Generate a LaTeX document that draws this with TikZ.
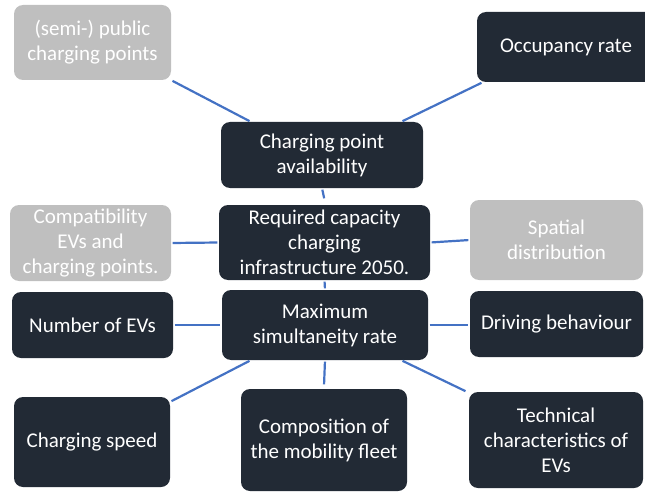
\documentclass[tikz,border=0pt]{standalone}
\usepackage{fontspec}
\setmainfont{Carlito}
\usepackage{xcolor}
\usepackage{tikz}

\definecolor{boxdark}{HTML}{222A35}
\definecolor{boxgrey}{HTML}{BFBFBF}
\definecolor{linkblue}{HTML}{4472C4}

\begin{document}
\begin{tikzpicture}[x=1pt,y=1pt,
  box/.style={rectangle, rounded corners=9pt, text=white, align=center,
    font=\fontsize{21}{25}\selectfont},
  darkbox/.style={box, fill=boxdark},
  greybox/.style={box, fill=boxgrey},
  link/.style={draw=linkblue, line width=2.2pt, shorten <=1.5pt, shorten >=1.5pt}]
\tikzstyle{every node}+=[inner sep=0pt]
\useasboundingbox (0,0) rectangle (645,-492);
\node [greybox, minimum width=157pt, minimum height=75pt] (semi) at (92.5,-42.5) {(semi-) public\\charging points};
\node [darkbox, minimum width=178pt, minimum height=70pt] (occ) at (566,-47) {Occupancy rate};
\node [darkbox, minimum width=202pt, minimum height=66pt] (cpa) at (322,-155) {Charging point\\availability};
\node [greybox, minimum width=161pt, minimum height=76pt] (compat) at (90.5,-243) {Compatibility\\EVs and\\charging points.};
\node [darkbox, minimum width=211pt, minimum height=75pt] (req) at (324.5,-242.5) {Required capacity\\charging\\infrastructure 2050.};
\node [greybox, minimum width=173pt, minimum height=80pt] (spatial) at (556.5,-240) {Spatial\\distribution};
\node [darkbox, minimum width=161pt, minimum height=66pt] (numev) at (92.5,-325) {Number of EVs};
\node [darkbox, minimum width=206pt, minimum height=70pt] (maxsim) at (325,-325) {Maximum\\simultaneity rate};
\node [darkbox, minimum width=173pt, minimum height=66pt] (driving) at (556.5,-324) {Driving behaviour};
\node [darkbox, minimum width=156pt, minimum height=90pt] (speed) at (92,-442) {Charging speed};
\node [darkbox, minimum width=166pt, minimum height=102pt] (fleet) at (324,-440) {Composition of\\the mobility fleet};
\node [darkbox, minimum width=174pt, minimum height=96pt] (tech) at (556,-440) {Technical\\characteristics of\\EVs};
\draw [link] (semi.south east) -- ([xshift=30pt]cpa.north west);
\draw [link] ([xshift=6pt]occ.south west) -- ([xshift=-22pt]cpa.north east);
\draw [link] (cpa.south) -- ([yshift=5pt]req.north);
\draw [link] (compat.east) -- (req.west);
\draw [link] (req.east) -- (spatial.east -| spatial.west);
\draw [link] (req.south) -- (maxsim.north);
\draw [link] (numev.east) -- (numev.east -| maxsim.west);
\draw [link] (maxsim.east) -- (maxsim.east -| driving.west);
\draw [link] ([xshift=29pt]maxsim.south west) -- ([yshift=-5pt]speed.north east);
\draw [link] (maxsim.south) -- ([yshift=3pt]fleet.north);
\draw [link] ([xshift=-27pt]maxsim.south east) -- ([xshift=-2pt]tech.north west);
\end{tikzpicture}
\end{document}
